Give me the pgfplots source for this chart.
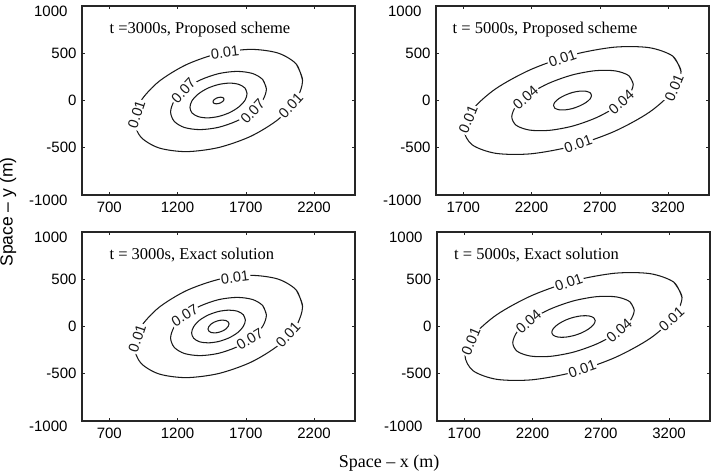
\documentclass[border=0pt]{standalone}
\usepackage{fontspec}
\setmainfont{Liberation Serif}
\setsansfont{Liberation Sans}
\usepackage{pgfplots}
\pgfplotsset{compat=1.18}

\pgfplotsset{
  panel/.style={
    scale only axis, width=273pt, height=189pt, anchor=south west,
    ymin=-1000, ymax=1000,
    ytick={-500,0,500}, yticklabels={-500,0,500},
    extra y ticks={-1000,1000}, extra y tick labels={-1000,1000},
    extra y tick style={tick label style={xshift=-9pt,yshift=-5pt}},
    tick align=inside, major tick length=3pt,
    every tick/.style={black!85, line width=0.6pt},
    axis line style={black!85, line width=1.1pt},
    tick label style={font=\fontsize{15}{15}\selectfont\sffamily},
    xticklabel style={yshift=-3pt},
    yticklabel style={xshift=-2pt},
  },
  iso/.style={smooth, black!90, line width=1.05pt, no marks},
}
\tikzset{
  lbl/.style={sloped, fill=white, inner sep=1.2pt, font=\fontsize{14.5}{14.5}\selectfont\sffamily},
  ttl/.style={anchor=west, font=\fontsize{16.5}{16.5}\selectfont},
}

\begin{document}
\begin{tikzpicture}
\path[use as bounding box] (0,0) rectangle (719pt,474pt);

% ---------- t = 3000 s, proposed scheme ----------
\begin{axis}[panel, at={(82pt,279pt)}, xmin=500, xmax=2500,
  xtick={700,1200,1700,2200}, xticklabels={700,1200,1700,2200}]
\addplot[iso] coordinates {(2116,212) (2069,387) (1936,502) (1736,541) (1500,498) (1264,379) (1064,202) (931,-5) (884,-212) (931,-387) (1064,-502) (1264,-541) (1500,-498) (1736,-379) (1936,-202) (2069,5) (2116,212) (2069,387)}
  node[lbl,pos=0.200]{0.01} node[lbl,pos=0.458]{0.01} node[lbl,pos=0.876]{0.01};
\addplot[iso] coordinates {(1851,121) (1824,221) (1749,286) (1635,308) (1500,284) (1365,216) (1251,115) (1176,-3) (1149,-121) (1176,-221) (1251,-286) (1365,-308) (1500,-284) (1635,-216) (1749,-115) (1824,3) (1851,121) (1824,221)}
  node[lbl,pos=0.361]{0.07} node[lbl,pos=0.831]{0.07};
\addplot[iso] coordinates {(1709,72) (1694,132) (1648,171) (1580,184) (1500,169) (1420,129) (1352,69) (1306,-2) (1291,-72) (1306,-132) (1352,-171) (1420,-184) (1500,-169) (1580,-129) (1648,-69) (1694,2) (1709,72) (1694,132)};
\addplot[iso] coordinates {(1540,14) (1537,25) (1528,33) (1515,35) (1500,32) (1485,25) (1472,13) (1463,0) (1460,-14) (1463,-25) (1472,-33) (1485,-35) (1500,-32) (1515,-25) (1528,-13) (1537,0) (1540,14) (1537,25)};
\node[ttl] at (rel axis cs:0.088,0.878) {t =3000s, Proposed scheme};
\end{axis}

% ---------- t = 5000 s, proposed scheme ----------
\begin{axis}[panel, at={(436pt,279pt)}, xmin=1500, xmax=3500,
  xtick={1700,2200,2700,3200}, xticklabels={1700,2200,2700,3200}]
\addplot[iso] coordinates {(3295,307) (3235,469) (3062,559) (2805,564) (2500,483) (2195,328) (1938,125) (1765,-99) (1705,-307) (1765,-469) (1938,-559) (2195,-564) (2500,-483) (2805,-328) (3062,-125) (3235,99) (3295,307) (3235,469)}
  node[lbl,pos=0.233]{0.01} node[lbl,pos=0.455]{0.01} node[lbl,pos=0.705]{0.01} node[lbl,pos=0.920]{0.01};
\addplot[iso] coordinates {(2945,172) (2912,263) (2815,313) (2671,316) (2500,271) (2329,184) (2185,70) (2088,-55) (2055,-172) (2088,-263) (2185,-313) (2329,-316) (2500,-271) (2671,-184) (2815,-70) (2912,55) (2945,172) (2912,263)}
  node[lbl,pos=0.386]{0.04} node[lbl,pos=0.875]{0.04};
\addplot[iso] coordinates {(2639,54) (2629,82) (2598,98) (2553,99) (2500,85) (2447,57) (2402,22) (2371,-17) (2361,-54) (2371,-82) (2402,-98) (2447,-99) (2500,-85) (2553,-57) (2598,-22) (2629,17) (2639,54) (2629,82)};
\node[ttl] at (rel axis cs:0.048,0.878) {t = 5000s, Proposed scheme};
\end{axis}

% ---------- t = 3000 s, exact solution ----------
\begin{axis}[panel, at={(82pt,53pt)}, xmin=500, xmax=2500,
  xtick={700,1200,1700,2200}, xticklabels={700,1200,1700,2200}]
\addplot[iso] coordinates {(2116,212) (2069,387) (1936,502) (1736,541) (1500,498) (1264,379) (1064,202) (931,-5) (884,-212) (931,-387) (1064,-502) (1264,-541) (1500,-498) (1736,-379) (1936,-202) (2069,5) (2116,212) (2069,387)}
  node[lbl,pos=0.180]{0.01} node[lbl,pos=0.452]{0.01} node[lbl,pos=0.866]{0.01};
\addplot[iso] coordinates {(1851,121) (1824,221) (1749,286) (1635,308) (1500,284) (1365,216) (1251,115) (1176,-3) (1149,-121) (1176,-221) (1251,-286) (1365,-308) (1500,-284) (1635,-216) (1749,-115) (1824,3) (1851,121) (1824,221)}
  node[lbl,pos=0.353]{0.07} node[lbl,pos=0.818]{0.07};
\addplot[iso] coordinates {(1697,68) (1682,124) (1640,161) (1576,173) (1500,159) (1424,121) (1360,65) (1318,-2) (1303,-68) (1318,-124) (1360,-161) (1424,-173) (1500,-159) (1576,-121) (1640,-65) (1682,2) (1697,68) (1682,124)};
\addplot[iso] coordinates {(1577,27) (1571,48) (1555,63) (1530,68) (1500,62) (1470,47) (1445,25) (1429,-1) (1423,-27) (1429,-48) (1445,-63) (1470,-68) (1500,-62) (1530,-47) (1555,-25) (1571,1) (1577,27) (1571,48)};
\node[ttl] at (rel axis cs:0.088,0.878) {t = 3000s, Exact solution};
\end{axis}

% ---------- t = 5000 s, exact solution ----------
\begin{axis}[panel, at={(437pt,53pt)}, xmin=1500, xmax=3500,
  xtick={1700,2200,2700,3200}, xticklabels={1700,2200,2700,3200}]
\addplot[iso] coordinates {(3295,307) (3235,469) (3062,559) (2805,564) (2500,483) (2195,328) (1938,125) (1765,-99) (1705,-307) (1765,-469) (1938,-559) (2195,-564) (2500,-483) (2805,-328) (3062,-125) (3235,99) (3295,307) (3235,469)}
  node[lbl,pos=0.223]{0.01} node[lbl,pos=0.445]{0.01} node[lbl,pos=0.711]{0.01} node[lbl,pos=0.905]{0.01};
\addplot[iso] coordinates {(2945,172) (2912,263) (2815,313) (2671,316) (2500,271) (2329,184) (2185,70) (2088,-55) (2055,-172) (2088,-263) (2185,-313) (2329,-316) (2500,-271) (2671,-184) (2815,-70) (2912,55) (2945,172) (2912,263)}
  node[lbl,pos=0.376]{0.04} node[lbl,pos=0.860]{0.04};
\addplot[iso] coordinates {(2659,61) (2647,94) (2612,112) (2561,113) (2500,97) (2439,66) (2388,25) (2353,-20) (2341,-61) (2353,-94) (2388,-112) (2439,-113) (2500,-97) (2561,-66) (2612,-25) (2647,20) (2659,61) (2647,94)};
\node[ttl] at (rel axis cs:0.050,0.878) {t = 5000s, Exact solution};
\end{axis}

% shared axis titles
\node[rotate=90, font=\fontsize{17.5}{17.5}\selectfont\sffamily] at (8pt,262pt) {Space – y (m)};
\node[font=\fontsize{18}{18}\selectfont] at (389pt,11pt) {Space – x (m)};
\end{tikzpicture}
\end{document}
